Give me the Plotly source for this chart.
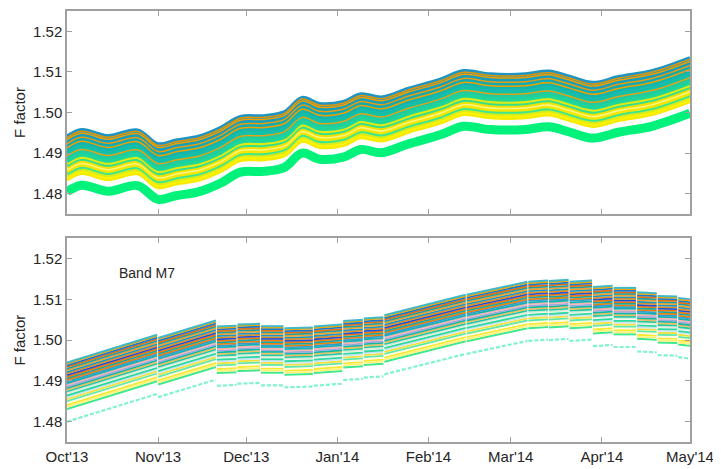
import plotly.graph_objects as go

# ---------------- data: top panel (smooth daily F factor) ----------------
top_dates = ['2013-10-01', '2013-10-06', '2013-10-15', '2013-10-25', '2013-11-01', '2013-11-07',
             '2013-11-15', '2013-11-22', '2013-11-29', '2013-12-07', '2013-12-14', '2013-12-20',
             '2013-12-26', '2014-01-03', '2014-01-09', '2014-01-16', '2014-01-25', '2014-02-05',
             '2014-02-13', '2014-02-22', '2014-03-06', '2014-03-14', '2014-03-21', '2014-03-29',
             '2014-04-07', '2014-04-18', '2014-05-01']
top_base = [1.4805, 1.4821, 1.4806, 1.4820, 1.4786, 1.4795,
            1.4805, 1.4825, 1.4853, 1.4855, 1.4865, 1.4900,
            1.4885, 1.4890, 1.4909, 1.4901, 1.4922, 1.4945,
            1.4966, 1.4958, 1.4958, 1.4965, 1.4952, 1.4937,
            1.4952, 1.4966, 1.4998]
# detector offsets above the lowest detector
top_offsets = [0.0000, 0.0030, 0.0035, 0.0040, 0.0045, 0.0050, 0.0055, 0.0060, 0.0065,
               0.0070, 0.0075, 0.0080, 0.0085, 0.0090, 0.0095, 0.0100, 0.0105, 0.0110,
               0.0115, 0.0120, 0.0125, 0.0130, 0.0136,
               0.0088, 0.0108, 0.0118, 0.0128, 0.0133]
top_colors = ['#00f27a', '#f6ea00', '#fff200', '#d8ec1c', '#3ee68e', '#f4e600', '#fff58a', '#efe400', '#36de8e',
              '#e4ea10', '#22d896', '#1cd49c', '#22cc9e', '#14c8a2', '#12c2a6', '#18bcaa', '#14b6ac', '#14b0ae',
              '#10acb2', '#12a6b4', '#16a0ba', '#1a9abd', '#2094c2',
              '#e0a41a', '#f0a000', '#e89c12', '#f0a000', '#e09808']
top_widths = [9, 4, 4, 4, 4, 4, 3, 4, 4,
              4, 4, 4, 4, 4, 4, 4, 4, 4,
              4, 4, 4, 4, 4,
              1.5, 1.5, 1.5, 1.5, 1.5]

# ---------------- data: bottom panel (weekly segments) ----------------
seg_start = ['2013-10-01', '2013-11-01', '2013-11-21', '2013-11-28', '2013-12-06', '2013-12-14',
             '2013-12-24', '2014-01-03', '2014-01-10', '2014-01-17', '2014-02-14', '2014-03-07',
             '2014-03-14', '2014-03-21', '2014-03-29', '2014-04-05', '2014-04-13', '2014-04-20',
             '2014-04-27']
seg_end = ['2013-10-31 16:00', '2013-11-20 16:00', '2013-11-27 16:00', '2013-12-05 16:00',
           '2013-12-13 16:00', '2013-12-23 16:00', '2014-01-02 16:00', '2014-01-09 16:00',
           '2014-01-16 16:00', '2014-02-13 16:00', '2014-03-06 16:00', '2014-03-13 16:00',
           '2014-03-20 16:00', '2014-03-28 16:00', '2014-04-04 16:00', '2014-04-12 16:00',
           '2014-04-19 16:00', '2014-04-26 16:00', '2014-05-01']
seg_base_start = [1.4800, 1.4860, 1.4888, 1.4893, 1.4889, 1.4884, 1.4888, 1.4902, 1.4908, 1.4916,
                  1.4966, 1.4998, 1.5000, 1.4998, 1.4985, 1.4983, 1.4972, 1.4963, 1.4958]
seg_base_end = [1.4868, 1.4903, 1.4890, 1.4895, 1.4889, 1.4886, 1.4893, 1.4905, 1.4911, 1.4966,
                1.4998, 1.5001, 1.5003, 1.5001, 1.4988, 1.4983, 1.4970, 1.4962, 1.4955]
bot_offsets = [0.0000, 0.0031, 0.0036, 0.0041, 0.0046, 0.0050, 0.0055, 0.0060, 0.0064, 0.0070,
               0.0074, 0.0078, 0.0082, 0.0086, 0.0090, 0.0094, 0.0098, 0.0102, 0.0106, 0.0110,
               0.0114, 0.0118, 0.0122, 0.0126, 0.0130, 0.0134, 0.0138, 0.0142, 0.0145]
bot_colors = ['#7df5c8', '#3de88f', '#fff27a', '#f8e830', '#fffbe0', '#60e8a8', '#f0e040', '#c8e4f2',
              '#30d8a0', '#d4ecd4', '#20c8a8', '#e8c060', '#10b8a0', '#a0a8dc', '#f4b4b0', '#18b0b0',
              '#2a9fd0', '#e88010', '#10a8a8', '#f07808', '#2050d8', '#e09020', '#1898c8', '#f0a030',
              '#20a0a0', '#e07010', '#1878d0', '#f0a800', '#40b8c8']
bot_widths = [2.2, 2, 1.8, 1.8, 1.8, 1.8, 1.8, 1.8, 1.8, 1.8,
              1.8, 1.8, 1.8, 1.8, 1.8, 1.8, 1.8, 1.8, 1.8, 1.8,
              1.8, 1.8, 1.8, 1.8, 1.8, 1.8, 1.8, 1.8, 2]
bot_dashes = ['4px,2px'] + ['solid'] * 28

month_ticks = ['2013-10-01', '2013-11-01', '2013-12-01', '2014-01-01', '2014-02-01',
               '2014-03-01', '2014-04-01', '2014-05-01']
month_labels = ["Oct'13", "Nov'13", "Dec'13", "Jan'14", "Feb'14", "Mar'14", "Apr'14", "May'14"]
y_ticks = [1.48, 1.49, 1.50, 1.51, 1.52]

fig = go.Figure()

for off, col, w in zip(top_offsets, top_colors, top_widths):
    fig.add_trace(go.Scatter(
        x=top_dates, y=[b + off for b in top_base], mode='lines',
        line=dict(color=col, width=w, shape='spline', smoothing=1.0),
        xaxis='x', yaxis='y', showlegend=False, hoverinfo='skip'))

for off, col, w, d in zip(bot_offsets, bot_colors, bot_widths, bot_dashes):
    xs, ys = [], []
    for s, e, bs, be in zip(seg_start, seg_end, seg_base_start, seg_base_end):
        xs += [s, e, None]
        ys += [bs + off, be + off, None]
    fig.add_trace(go.Scatter(
        x=xs, y=ys, mode='lines', line=dict(color=col, width=w, dash=d),
        xaxis='x2', yaxis='y2', showlegend=False, hoverinfo='skip'))

axis_col = '#a0a0a0'
font_col = '#262626'
common_x = dict(range=['2013-10-01', '2014-05-01'], tickvals=month_ticks, ticktext=month_labels,
                ticks='inside', ticklen=5, tickcolor=axis_col, showline=True, linecolor=axis_col,
                linewidth=1.5, mirror='ticks', showgrid=False, zeroline=False,
                tickfont=dict(size=15, color=font_col))
common_y = dict(range=[1.475, 1.525], tickvals=y_ticks, tickformat='.2f', ticks='inside', ticklen=5,
                tickcolor=axis_col, showline=True, linecolor=axis_col, linewidth=1.5, mirror='ticks',
                showgrid=False, zeroline=False, tickfont=dict(size=15, color=font_col),
                title=dict(text='F factor', font=dict(size=15, color=font_col), standoff=4))

# page body has an 8px default margin: figure is sized/offset to compensate
fig.update_layout(
    width=713, height=461,
    margin=dict(l=59, r=31, t=1, b=27),
    paper_bgcolor='white', plot_bgcolor='white',
    font=dict(family='Liberation Sans, Arial, sans-serif', color=font_col),
    xaxis=dict(common_x, domain=[0, 1], anchor='y', showticklabels=False),
    yaxis=dict(common_y, domain=[0.529, 1], anchor='x'),
    xaxis2=dict(common_x, domain=[0, 1], anchor='y2'),
    yaxis2=dict(common_y, domain=[0, 0.473], anchor='x2'),
    annotations=[dict(text='Band M7', xref='x2 domain', yref='y2 domain', x=0.08, y=0.83,
                      xanchor='left', yanchor='middle', showarrow=False,
                      font=dict(size=14, color=font_col))],
)

fig.write_html('out.html')
